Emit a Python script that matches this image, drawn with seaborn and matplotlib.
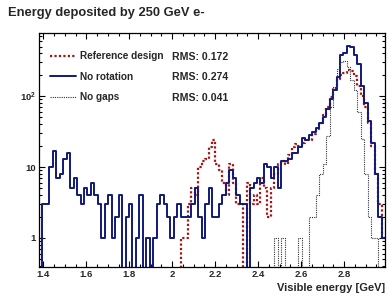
import numpy as np
import pandas as pd
import seaborn as sns
import matplotlib
matplotlib.use('Agg')
from matplotlib import pyplot as plt
from matplotlib.lines import Line2D
from matplotlib.ticker import MultipleLocator, LogLocator, NullFormatter

# histogram range and binning (100 bins)
e_min, e_max, n_bins = 1.38, 2.99, 100

# counts per bin
no_rotation = [0, 3, 3, 10, 17, 7, 8, 13, 16, 5,
               7, 4, 3, 5, 4, 6, 4, 3, 1, 3,
               4, 1, 2, 4, 0, 2, 3, 0, 1, 4,
               0, 1, 0, 1, 3, 4, 3, 2, 1, 2,
               3, 2, 2, 2, 3, 5, 2, 1, 3, 5,
               2, 2, 3, 4, 6, 9, 7, 4, 3, 3,
               0, 5, 6, 7, 6, 11, 10, 7, 10, 5,
               12, 12, 13, 16, 16, 19, 26, 24, 28, 31,
               36, 42, 50, 66, 92, 120, 185, 378, 405, 505,
               500, 378, 280, 140, 80, 45, 22, 8, 2, 1]
reference = [0] * 41 + [1, 1, 3, 5, 4, 10, 12, 13, 19,
                        24, 11, 9, 6, 4, 11, 6, 3, 3, 0,
                        6, 3, 4, 3, 7, 5, 2, 5, 8, 11,
                        12, 11, 15, 19, 21, 20, 22, 25, 24, 29,
                        34, 42, 55, 70, 98, 128, 175, 200, 215, 235,
                        225, 190, 140, 100, 70, 42, 20, 8, 3, 1]
no_gaps = [0] * 68 + [1, 0,
                      1, 0, 0, 0, 0, 1, 0, 0, 2, 2,
                      4, 8, 11, 27, 70, 135, 240, 300, 310, 260,
                      170, 120, 60, 25, 8, 2, 1, 1, 0, 0]

labels = ['Reference design', 'No rotation', 'No gaps']
rms_values = ['0.172', '0.274', '0.041']
xticks = [1.4, 1.6, 1.8, 2.0, 2.2, 2.4, 2.6, 2.8]
xtick_labels = ['1.4', '1.6', '1.8', '2', '2.2', '2.4', '2.6', '2.8']
yticks = [1, 10, 100]
ytick_labels = ['1', '10', '$10^{2}$']

edges = np.linspace(e_min, e_max, n_bins + 1)
centers = 0.5 * (edges[:-1] + edges[1:])

sns.set_style('ticks')
plt.rcParams['font.family'] = ['Liberation Sans', 'DejaVu Sans']
plt.rcParams['font.weight'] = 'bold'
plt.rcParams['mathtext.fontset'] = 'custom'
plt.rcParams['mathtext.rm'] = 'Liberation Sans:bold'
plt.rcParams['mathtext.bf'] = 'Liberation Sans:bold'
plt.rcParams['mathtext.it'] = 'Liberation Sans:bold'

fig = plt.figure(figsize=(3.87, 2.98), dpi=100)
ax = fig.add_axes([39 / 387, 1 - 267 / 298, 346 / 387, 234 / 298])

styles = [
    (reference, '#a31515', (0, (1, 1)), 1.6),
    (no_rotation, '#101a78', '-', 1.4),
    (no_gaps, '#333333', (0, (1, 1)), 0.8),
]
for vals, color, ls, lw in styles:
    df = pd.DataFrame({'energy': centers, 'count': np.asarray(vals, dtype=float)})
    sns.histplot(data=df, x='energy', weights='count', bins=n_bins, binrange=(e_min, e_max),
                 element='step', fill=False, color=color, linestyle=ls, linewidth=lw, ax=ax)

ax.set_yscale('log')
ax.set_xlim(e_min, e_max)
ax.set_ylim(0.39, 775)
ax.set_ylabel('')
ax.set_xlabel('')

ax.set_xticks(xticks, xtick_labels)
ax.xaxis.set_minor_locator(MultipleLocator(0.05))
ax.set_yticks(yticks, ytick_labels)
ax.yaxis.set_minor_locator(LogLocator(base=10, subs=np.arange(2, 10)))
ax.yaxis.set_minor_formatter(NullFormatter())
ax.tick_params(which='both', direction='in', top=True, right=True,
               labelsize=6.8, width=0.8, color='black', pad=2)
ax.tick_params(which='major', length=4)
ax.tick_params(which='minor', length=2)
for s in ax.spines.values():
    s.set_linewidth(0.9)
    s.set_color('black')

handles = [Line2D([], [], color=c, linestyle=ls, linewidth=lw) for _, c, ls, lw in styles]
ax.legend(handles, labels, loc='upper left', bbox_to_anchor=(0.032, 0.921),
          frameon=False, prop=dict(weight='bold', size=7.2), handlelength=2.6,
          handletextpad=0.35, labelspacing=1.05, borderpad=0, borderaxespad=0)
for rms, ypix in zip(rms_values, [57, 77, 98]):
    ax.text((172 - 39) / 346, 1 - (ypix - 33) / 234, f'RMS: {rms}',
            transform=ax.transAxes, ha='left', va='center', fontsize=7.6, fontweight='bold')

fig.text(8 / 387, 1 - 13 / 298, 'Energy deposited by 250 GeV e-', ha='left', va='center',
         fontsize=9.3, fontweight='bold')
fig.text(385 / 387, 1 - 288 / 298, 'Visible energy [GeV]', ha='right', va='center',
         fontsize=8, fontweight='bold')

fig.savefig('out.png', dpi=100)
